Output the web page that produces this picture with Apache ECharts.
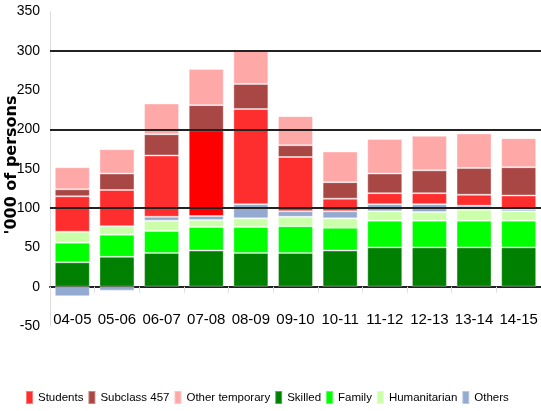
<!DOCTYPE html>
<html>
<head>
<meta charset="utf-8">
<script src="https://cdn.jsdelivr.net/npm/echarts@6/dist/echarts.min.js"></script>
<style>
  html, body { margin: 0; padding: 0; background: #fff; }
  #chart { width: 541px; height: 411px; }
</style>
</head>
<body>
<div id="chart"></div>
<script>
  // 年度
  var years = ['04-05', '05-06', '06-07', '07-08', '08-09', '09-10', '10-11', '11-12', '12-13', '13-14', '14-15'];

  // '000 of persons
  var skilled      = [31, 38, 43, 46, 43, 43, 46, 50, 50, 50, 50];
  var family       = [25, 28, 28, 30, 33, 34, 29, 34, 34, 34, 34];
  var humanitarian = [14, 11, 13, 9, 11, 12, 12, 12, 11, 14, 12];
  var others       = [-12, -5, 5, 5, 18, 7, 9, 9, 10, 5, 3];
  var students     = [45, 46, 78, 109, 121, 69, 16, 14, 14, 14, 17];
  var subclass457  = [9, 21, 27, 32, 32, 15, 21, 25, 29, 34, 36];
  var otherTemp    = [28, 31, 39, 46, 42, 37, 39, 44, 44, 44, 37];

  var yTicks = [-50, 0, 50, 100, 150, 200, 250, 300, 350];
  var refLines = [100, 200, 300];

  var narrow = '"Liberation Sans Narrow", "Liberation Sans", Arial, sans-serif';

  function bar(name, data, color) {
    return {
      name: name,
      type: 'bar',
      stack: 'total',
      barWidth: 35,
      data: data,
      itemStyle: { color: color, borderColor: 'rgba(255,255,255,0.35)', borderWidth: 1 }
    };
  }

  var series = [
    bar('Skilled', skilled, '#008000'),
    bar('Family', family, '#00ff00'),
    bar('Humanitarian', humanitarian, '#ccffaa'),
    bar('Others', others, '#94aad0'),
    bar('Students', students.map(function (v, i) {
      // 07-08 的柱子颜色更纯
      return i === 3 ? { value: v, itemStyle: { color: '#ff0000' } } : v;
    }), '#ff2e2e'),
    bar('Subclass 457', subclass457, '#a94745'),
    bar('Other temporary', otherTemp, '#ffa8a8')
  ];

  // 横线画在柱子上面
  series[series.length - 1].markLine = {
    silent: true,
    symbol: 'none',
    z: 10,
    label: { show: false },
    lineStyle: { color: '#222', width: 2, type: 'solid' },
    data: refLines.map(function (v) { return { yAxis: v }; })
  };

  var chart = echarts.init(document.getElementById('chart'));
  chart.setOption({
    animation: false,
    grid: { left: 50, top: 11.6, width: 495, bottom: 85 },
    legend: {
      data: ['Students', 'Subclass 457', 'Other temporary', 'Skilled', 'Family', 'Humanitarian', 'Others'],
      bottom: 6,
      left: 25,
      padding: 0,
      icon: 'rect',
      itemWidth: 7,
      itemHeight: 13,
      itemGap: 4,
      textStyle: { fontFamily: narrow, fontSize: 11.5, color: '#000' }
    },
    graphic: [{
      type: 'text',
      x: 12,
      y: 165,
      rotation: Math.PI / 2,
      style: {
        text: "'000 of persons",
        font: 'bold 16px "DejaVu Sans", Verdana, sans-serif',
        fill: '#000',
        align: 'center',
        verticalAlign: 'middle'
      }
    }],
    xAxis: {
      type: 'category',
      data: years,
      axisLine: { onZero: true, lineStyle: { color: '#222', width: 2 } },
      axisTick: { show: true, length: 6, lineStyle: { color: '#ddd' } },
      axisLabel: { interval: 0, margin: -14, fontFamily: narrow, fontSize: 15, color: '#000' }
    },
    yAxis: {
      type: 'value',
      min: yTicks[0],
      max: yTicks[yTicks.length - 1],
      interval: 50,
      axisLine: { show: true, lineStyle: { color: '#ddd' } },
      axisTick: { show: false },
      splitLine: { show: false },
      axisLabel: { margin: 10, fontFamily: narrow, fontSize: 14, color: '#000' }
    },
    series: series
  });
</script>
</body>
</html>
